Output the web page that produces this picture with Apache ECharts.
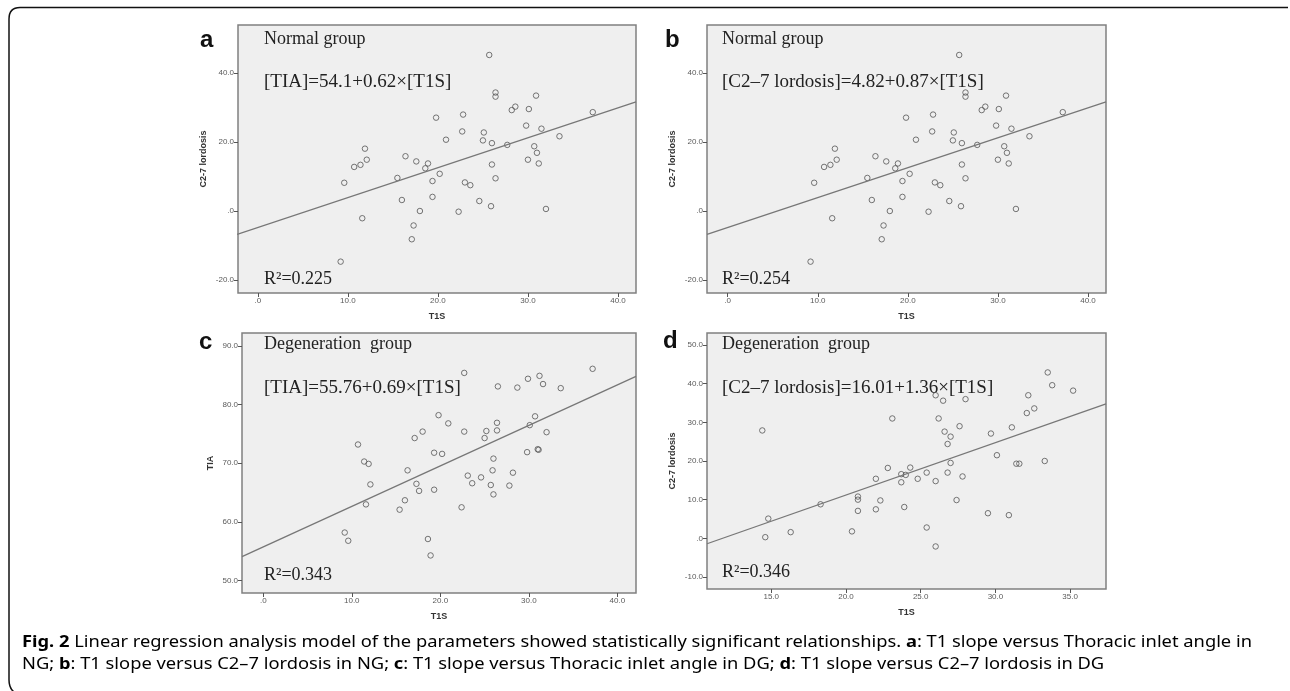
<!DOCTYPE html>
<html>
<head>
<meta charset="utf-8">
<script src="https://cdn.jsdelivr.net/npm/echarts@6/dist/echarts.min.js"></script>
<style>
  html, body { margin: 0; padding: 0; background: #fff; }
  #chart { width: 1290px; height: 691px; }
</style>
</head>
<body>
<div id="chart"></div>
<script>
// panel a and b share the same scatter (normal group)
const t1sNormal = [25.7, 26.4, 26.4, 30.9, 28.6, 28.2, 30.1, 37.2, 22.8, 19.8,
  29.8, 31.5, 22.7, 25.1, 33.5, 20.9, 25.0, 26.0, 27.7, 30.7,
  11.9, 31.0, 16.4, 30.0, 12.1, 17.6, 31.2, 18.9, 26.0, 11.4,
  10.7, 18.6, 20.2, 15.5, 26.4, 19.4, 9.6, 23.0, 23.6, 19.4,
  16.0, 24.6, 25.9, 32.0, 18.0, 22.3, 11.6, 17.3, 17.1, 9.2];
const c27Normal = [45.3, 34.4, 33.2, 33.5, 30.3, 29.3, 29.6, 28.7, 28.0, 27.1,
  24.8, 23.9, 23.1, 22.8, 21.7, 20.7, 20.5, 19.7, 19.2, 18.8,
  18.1, 16.9, 15.9, 14.9, 14.9, 14.4, 13.8, 13.8, 13.5, 13.4,
  12.8, 12.4, 10.8, 9.6, 9.5, 8.7, 8.2, 8.3, 7.5, 4.1,
  3.2, 2.9, 1.4, 0.6, 0.0, -0.2, -2.1, -4.2, -8.2, -14.7];

// panel c (degeneration group, TIA)
const t1sDegenC = [37.2, 22.7, 31.2, 29.9, 31.6, 26.5, 28.7, 33.6, 19.8, 30.7,
  20.9, 26.4, 30.1, 25.2, 26.4, 22.7, 18.0, 32.0, 17.1, 25.0,
  10.7, 31.0, 31.1, 19.3, 29.8, 20.2, 26.0, 11.4, 11.9, 16.3,
  25.9, 28.2, 23.1, 24.6, 17.3, 23.6, 25.7, 12.1, 27.8, 17.6,
  19.3, 26.0, 16.0, 11.6, 22.4, 15.4, 9.2, 9.6, 18.6, 18.9];
const tiaDegen = [86.1, 85.4, 84.9, 84.4, 83.5, 83.1, 82.9, 82.8, 78.2, 78.0,
  76.8, 76.9, 76.5, 75.5, 75.6, 75.4, 75.4, 75.3, 74.3, 74.3,
  73.2, 72.4, 72.3, 71.8, 71.9, 71.6, 70.8, 70.3, 69.9, 68.8,
  68.8, 68.4, 67.9, 67.6, 66.5, 66.6, 66.3, 66.4, 66.2, 65.3,
  65.5, 64.7, 63.7, 63.0, 62.5, 62.1, 58.2, 56.8, 57.1, 54.3];

// panel d (degeneration group, C2-7 lordosis)
const t1sDegenD = [33.5, 33.8, 35.2, 26.0, 32.2, 28.0, 26.5, 32.6, 32.1, 23.1,
  26.2, 27.6, 31.1, 14.4, 26.6, 27.0, 29.7, 26.8, 30.1, 27.0,
  33.3, 31.4, 31.6, 24.3, 22.8, 23.7, 24.0, 25.4, 26.8, 27.8,
  22.0, 24.8, 26.0, 23.7, 20.8, 20.8, 22.3, 27.4, 18.3, 23.9,
  22.0, 20.8, 29.5, 30.9, 14.8, 25.4, 16.3, 20.4, 14.6, 26.0];
const c27Degen = [42.9, 39.6, 38.2, 37.0, 37.0, 36.0, 35.6, 33.6, 32.4, 31.0,
  31.0, 29.0, 28.7, 27.9, 27.6, 26.3, 27.1, 24.4, 21.5, 19.5,
  20.0, 19.3, 19.3, 18.3, 18.2, 16.6, 16.4, 17.0, 17.0, 16.0,
  15.4, 15.4, 14.8, 14.5, 10.8, 10.0, 9.8, 9.9, 8.8, 8.1,
  7.5, 7.1, 6.5, 6.0, 5.1, 2.8, 1.6, 1.8, 0.3, -2.1];

// fit line end points
const fitNormal = [[-2.3, -6.8], [42.0, 31.7]];
const fitDegenC = [[-2.4, 54.1], [42.1, 84.8]];
const fitDegenD = [[10.7, -1.4], [37.4, 34.8]];

// tick labels
const ticksX = [0, 10, 20, 30, 40];
const ticksXD = [15, 20, 25, 30, 35];
const ticksYNormal = [-20, 0, 20, 40];
const ticksYC = [50, 60, 70, 80, 90];
const ticksYD = [-10, 0, 10, 20, 30, 40, 50];

const panelLetters = ['a', 'b', 'c', 'd'];
const groupNames = ['Normal group', 'Normal group', 'Degeneration  group', 'Degeneration  group'];
const equations = [
  '[TIA]=54.1+0.62\u00d7[T1S]',
  '[C2\u20137 lordosis]=4.82+0.87\u00d7[T1S]',
  '[TIA]=55.76+0.69\u00d7[T1S]',
  '[C2\u20137 lordosis]=16.01+1.36\u00d7[T1S]'
];
const rSquared = ['R\u00b2=0.225', 'R\u00b2=0.254', 'R\u00b2=0.343', 'R\u00b2=0.346'];
const yNames = ['C2-7 lordosis', 'C2-7 lordosis', 'TIA', 'C2-7 lordosis'];

// caption, split in plain / bold pieces
const captionLine1 = [['Fig. 2', 1], [' Linear regression analysis model of the parameters showed statistically significant relationships. ', 0],
  ['a', 1], [': T1 slope versus Thoracic inlet angle in', 0]];
const captionLine2 = [['NG; ', 0], ['b', 1], [': T1 slope versus C2\u20137 lordosis in NG; ', 0], ['c', 1],
  [': T1 slope versus Thoracic inlet angle in DG; ', 0], ['d', 1], [': T1 slope versus C2\u20137 lordosis in DG', 0]];

const zip = (xs, ys) => xs.map((x, i) => [x, ys[i]]);
const fmt = v => v.toFixed(1).replace(/^0\./, '.').replace(/^-0\./, '-.');

const panels = [
  { grid: { left: 238, top: 25, width: 398, height: 268 }, x: [-2.2, 42.0], y: [-23.8, 54.0],
    tx: ticksX, ty: ticksYNormal, pts: zip(t1sNormal, c27Normal), fit: fitNormal, yGap: 30 },
  { grid: { left: 707, top: 25, width: 399, height: 268 }, x: [-2.3, 42.0], y: [-23.8, 54.0],
    tx: ticksX, ty: ticksYNormal, pts: zip(t1sNormal, c27Normal), fit: fitNormal, yGap: 30 },
  { grid: { left: 242, top: 333, width: 394, height: 260 }, x: [-2.4, 42.1], y: [47.9, 92.2],
    tx: ticksX, ty: ticksYC, pts: zip(t1sDegenC, tiaDegen), fit: fitDegenC, yGap: 27 },
  { grid: { left: 707, top: 333, width: 399, height: 256 }, x: [10.7, 37.4], y: [-13.1, 53.1],
    tx: ticksXD, ty: ticksYD, pts: zip(t1sDegenD, c27Degen), fit: fitDegenD, yGap: 30 }
];

const textPos = [
  { x: 264, y: [39, 82, 279], lx: 200, ly: 40 },
  { x: 722, y: [39, 82, 279], lx: 665, ly: 40 },
  { x: 264, y: [344, 388, 575], lx: 199, ly: 342 },
  { x: 722, y: [344, 388, 572], lx: 663, ly: 341 }
];

const tickLabel = { fontSize: 8, color: '#5a5a5a', fontFamily: 'Liberation Sans', formatter: fmt, margin: 4 };
const nameStyle = { fontSize: 9, fontWeight: 'bold', color: '#333', fontFamily: 'Liberation Sans' };
const frame = { stroke: '#111', lineWidth: 1.5, fill: null };

// caption font is a condensed sans; fit a normal sans to the same line width
const capFont = '"Noto Sans"';
const capSize = 16;
const capLeft = 22;
const ctx = document.createElement('canvas').getContext('2d');
const measure = parts => parts.reduce((w, [s, b]) => {
  ctx.font = (b ? 'bold ' : '') + capSize + 'px ' + capFont;
  return w + ctx.measureText(s).width;
}, 0);
const capScale = (1252 - capLeft) / measure(captionLine1);
const richText = parts => parts.map(([s, b]) => (b ? '{b|' + s + '}' : '{n|' + s + '}')).join('');
const capRich = {
  n: { fontSize: capSize, fontFamily: capFont, color: '#2a2a2a' },
  b: { fontSize: capSize, fontFamily: capFont, fontWeight: 'bold', color: '#2a2a2a' }
};

const option = {
  animation: false,
  backgroundColor: '#fff',
  grid: panels.map(p => Object.assign({
    show: true, backgroundColor: '#efefef', borderColor: '#808080', borderWidth: 1.5
  }, p.grid)),
  xAxis: panels.map((p, i) => ({
    type: 'value', gridIndex: i, min: p.x[0], max: p.x[1],
    name: 'T1S', nameLocation: 'middle', nameGap: 19, nameTextStyle: nameStyle,
    axisLine: { show: false, onZero: false },
    axisTick: { show: true, inside: false, length: 4, customValues: p.tx, lineStyle: { color: '#555' } },
    axisLabel: Object.assign({ customValues: p.tx }, tickLabel),
    splitLine: { show: false }
  })),
  yAxis: panels.map((p, i) => ({
    type: 'value', gridIndex: i, min: p.y[0], max: p.y[1],
    name: yNames[i], nameLocation: 'middle', nameGap: p.yGap, nameTextStyle: nameStyle,
    axisLine: { show: false, onZero: false },
    axisTick: { show: true, inside: false, length: 4, customValues: p.ty, lineStyle: { color: '#555' } },
    axisLabel: Object.assign({ customValues: p.ty }, tickLabel),
    splitLine: { show: false }
  })),
  series: panels.flatMap((p, i) => [
    {
      type: 'scatter', xAxisIndex: i, yAxisIndex: i, data: p.pts,
      symbol: 'circle', symbolSize: 5.5,
      itemStyle: { color: 'rgba(0,0,0,0)', borderColor: '#555', borderWidth: 1 }
    },
    {
      type: 'line', xAxisIndex: i, yAxisIndex: i, data: p.fit, symbol: 'none',
      lineStyle: { color: '#777', width: 1.3 }
    }
  ]),
  graphic: [
    // figure frame: top edge, rounded top-left corner, left edge, bottom-left corner
    { type: 'line', silent: true, shape: { x1: 1288, y1: 7.5, x2: 20, y2: 7.5 }, style: frame },
    { type: 'bezierCurve', silent: true, shape: { x1: 20, y1: 7.5, cpx1: 9, cpy1: 7.5, x2: 9, y2: 19 }, style: frame },
    { type: 'line', silent: true, shape: { x1: 9, y1: 19, x2: 9, y2: 680 }, style: frame },
    { type: 'bezierCurve', silent: true, shape: { x1: 9, y1: 680, cpx1: 9, cpy1: 688, x2: 14, y2: 692 }, style: frame },
    ...panels.flatMap((p, i) => {
      const t = textPos[i];
      const serif = 'Liberation Serif';
      return [
        { type: 'text', x: t.lx, y: t.ly, style: { text: panelLetters[i], font: 'bold 24px Liberation Sans', fill: '#111', verticalAlign: 'middle' } },
        { type: 'text', x: t.x, y: t.y[0], style: { text: groupNames[i], font: '18px ' + serif, fill: '#222', verticalAlign: 'middle' } },
        { type: 'text', x: t.x, y: t.y[1], style: { text: equations[i], font: '19px ' + serif, fill: '#222', verticalAlign: 'middle' } },
        { type: 'text', x: t.x, y: t.y[2], style: { text: rSquared[i], font: '18px ' + serif, fill: '#222', verticalAlign: 'middle' } }
      ];
    }),
    {
      type: 'text', x: capLeft, y: 642, scaleX: capScale,
      style: { text: richText(captionLine1), rich: capRich, verticalAlign: 'middle' }
    },
    {
      type: 'text', x: capLeft, y: 664, scaleX: capScale,
      style: { text: richText(captionLine2), rich: capRich, verticalAlign: 'middle' }
    }
  ]
};

echarts.init(document.getElementById('chart'), null, { renderer: 'canvas' }).setOption(option);
</script>
</body>
</html>
